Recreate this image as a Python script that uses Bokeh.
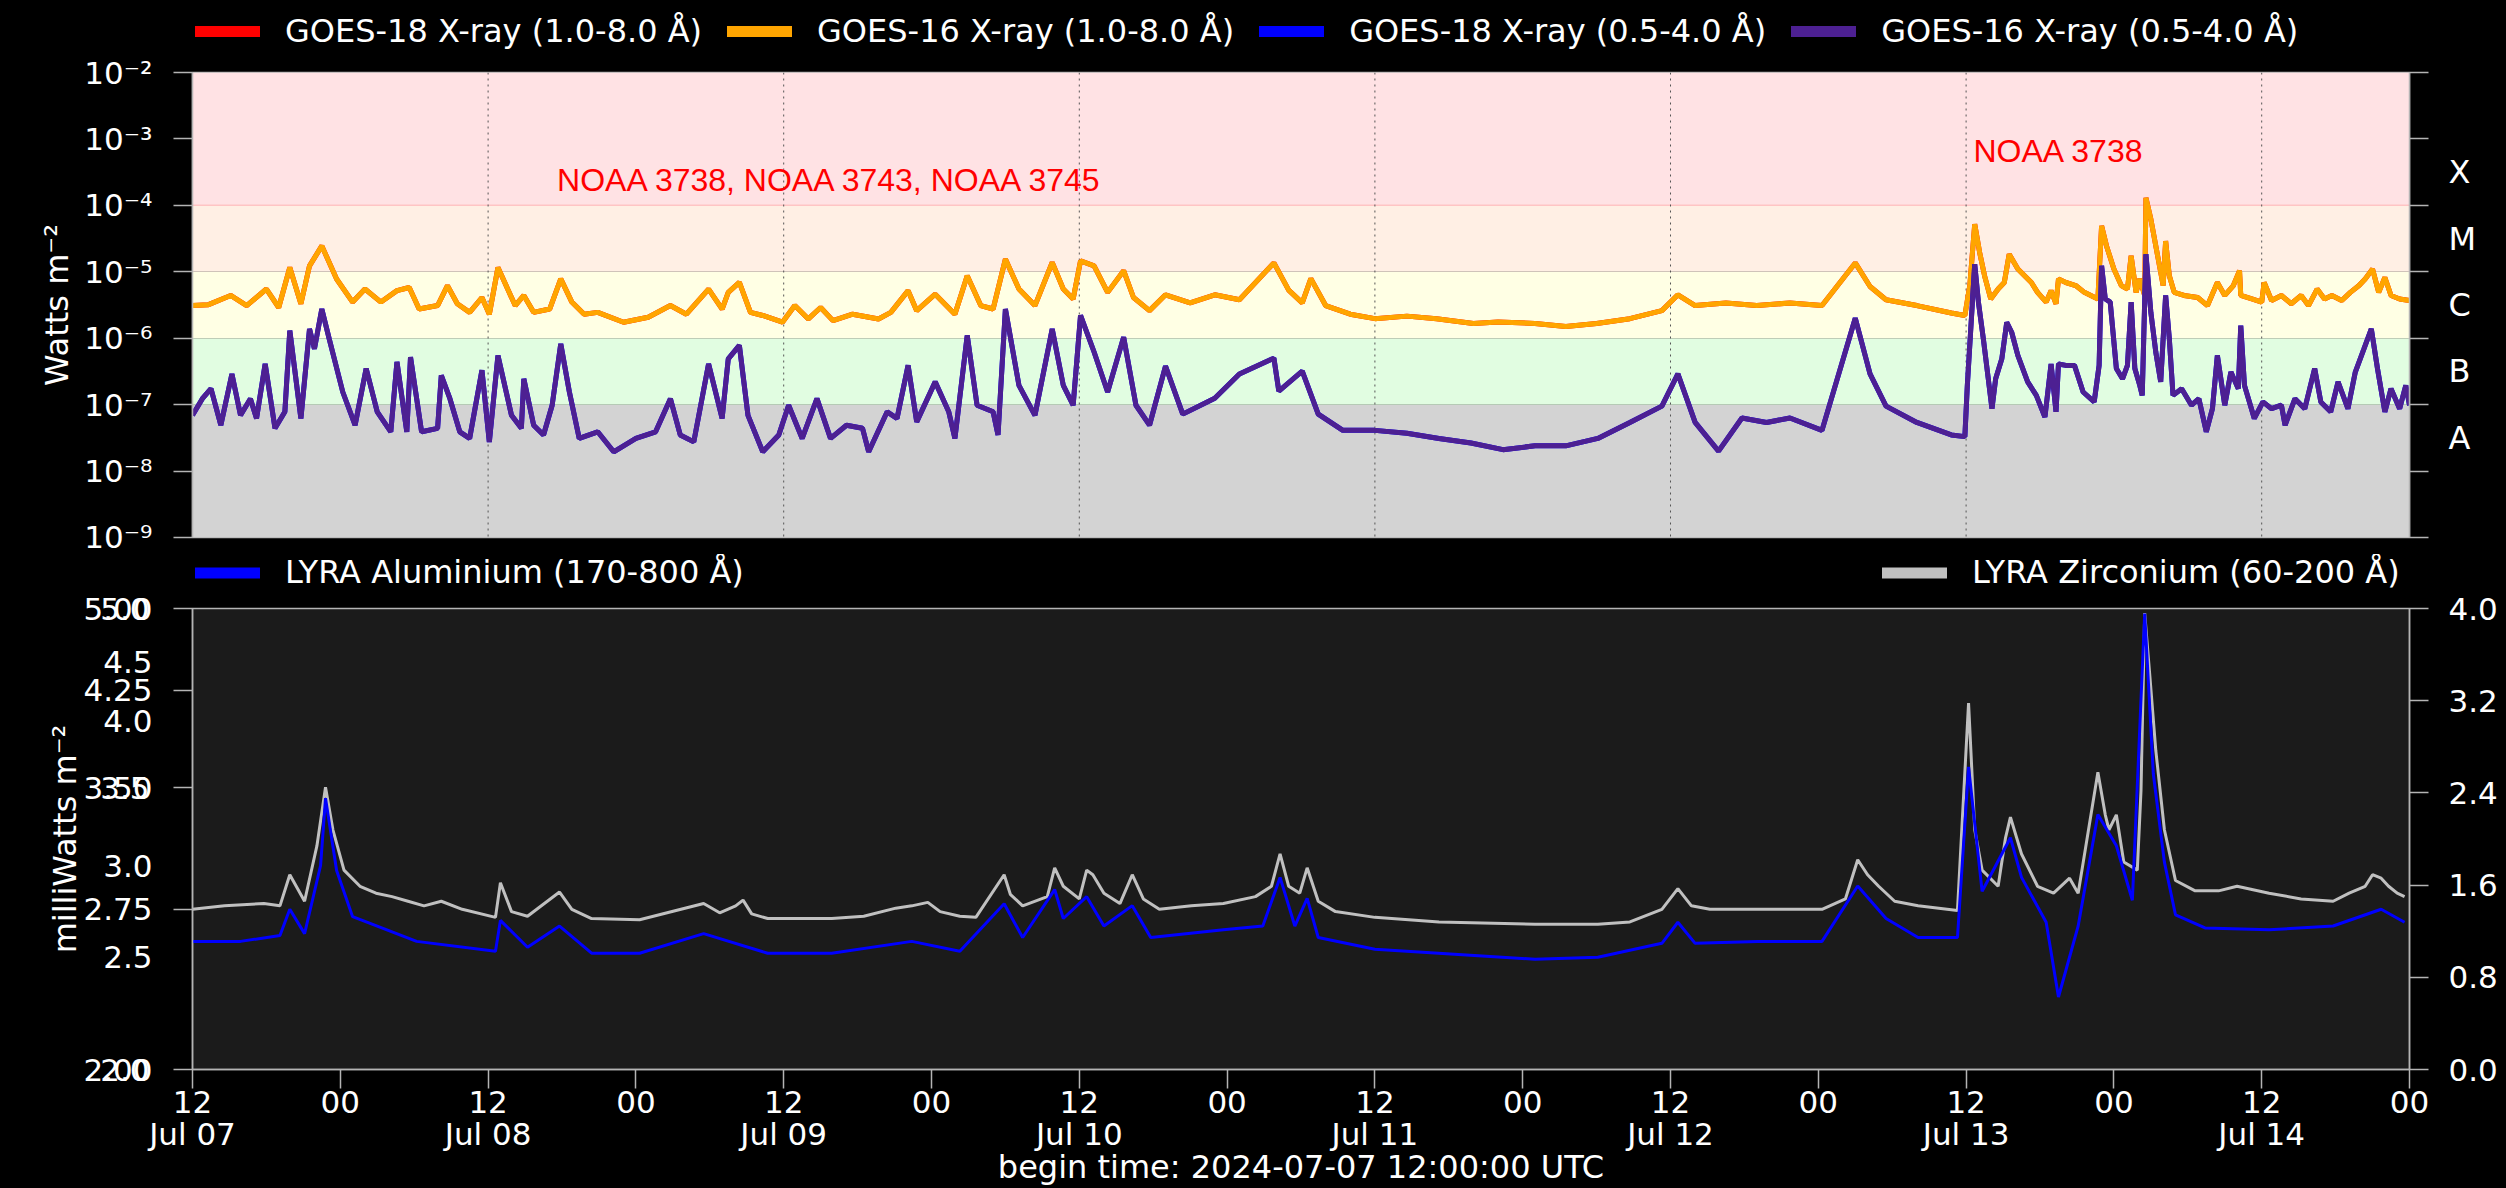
from datetime import datetime, timedelta
from bokeh.plotting import figure
from bokeh.layouts import column
from bokeh.models import (Range1d, LinearAxis, LogAxis, LinearScale, FixedTicker, CustomJSTickFormatter,
                          BoxAnnotation, Span, Label, Legend, LegendItem)
from bokeh.embed import file_html
from bokeh.resources import INLINE

# ---------------- data (hours after 2024-07-07 12:00 UTC) ----------------
goes_long_h = [0.0, 1.3, 3.1, 4.4, 6.0, 7.0, 7.9, 8.8, 9.5, 10.5, 11.7, 13.0, 14.0, 15.3, 16.6, 17.6, 18.4, 19.9, 20.7,
               21.5, 22.5, 23.5, 24.1, 24.8, 26.2, 26.9, 27.7, 29.0, 29.9, 30.8, 31.8, 32.9, 35.0, 37.0, 38.8, 40.1,
               41.9, 43.0, 43.5, 44.4, 45.3, 46.3, 47.9, 48.9, 50.0, 51.0, 52.0, 53.6, 55.7, 56.7, 58.1, 58.8, 60.3,
               61.9, 62.9, 64.0, 65.0, 66.0, 67.1, 68.4, 69.8, 70.7, 71.5, 72.1, 73.2, 74.3, 75.6, 76.4, 77.7,
               79.0, 81.0, 83.0, 85.0, 87.8, 89.0, 90.1, 90.8, 92.0, 94.0, 96.0, 98.6, 101.0, 104.0, 106.0, 109.0,
               111.5, 114.0, 116.7, 119.3, 120.6, 122.0, 124.5, 127.0, 129.7, 132.3, 135.0, 136.2, 137.5, 140.0,
               142.8, 143.9, 144.3, 144.7, 145.1, 145.5, 146.0, 146.6, 147.1, 147.5, 148.2, 149.3, 149.8, 150.5,
               150.9, 151.3, 151.5, 152.1, 152.9, 153.6, 154.7, 155.0, 155.4, 156.0, 156.6, 157.1, 157.4, 157.8,
               158.1, 158.5, 158.6, 159.0, 159.6, 160.0, 160.2, 160.5, 160.9, 161.7, 162.8, 163.6, 164.4, 165.0,
               165.7, 166.2, 166.3, 167.2, 168.0, 168.2, 168.8, 169.6, 170.4, 171.2, 171.8, 172.5, 173.1, 173.7,
               174.5, 175.2, 175.9, 176.4, 177.0, 177.5, 178.0, 178.5, 179.2, 180.0]
goes16_long = [3.1e-6, 3.2e-6, 4.4e-6, 3.1e-6, 5.5e-6, 2.9e-6, 1.16e-5, 3.3e-6, 1.23e-5, 2.45e-5, 7.8e-6, 3.5e-6,
               5.5e-6, 3.5e-6, 5.2e-6, 5.8e-6, 2.75e-6, 3.1e-6, 6.2e-6, 3.3e-6, 2.45e-6, 4.1e-6, 2.3e-6, 1.16e-5,
               3.1e-6, 4.4e-6, 2.45e-6, 2.75e-6, 7.8e-6, 3.5e-6, 2.3e-6, 2.45e-6, 1.74e-6, 2.07e-6, 3.1e-6, 2.3e-6,
               5.5e-6, 2.75e-6, 4.9e-6, 6.9e-6, 2.45e-6, 2.2e-6, 1.74e-6, 3.1e-6, 1.95e-6, 2.9e-6, 1.84e-6, 2.3e-6,
               1.95e-6, 2.45e-6, 5.2e-6, 2.6e-6, 4.6e-6, 2.3e-6, 8.7e-6, 3.1e-6, 2.75e-6, 1.55e-5, 5.5e-6, 3.1e-6,
               1.38e-5, 5.5e-6, 3.9e-6, 1.46e-5, 1.23e-5, 4.9e-6, 1.04e-5, 4.1e-6, 2.6e-6,
               4.5e-6, 3.4e-6, 4.5e-6, 3.8e-6, 1.36e-5, 5.3e-6, 3.4e-6, 7.9e-6, 3.1e-6, 2.3e-6, 1.97e-6, 2.15e-6,
               1.97e-6, 1.67e-6, 1.75e-6, 1.67e-6, 1.5e-6, 1.67e-6, 1.97e-6, 2.6e-6, 4.5e-6, 3.1e-6, 3.4e-6, 3.1e-6,
               3.4e-6, 3.1e-6, 1.36e-5, 6.0e-6, 3.8e-6, 3.1e-6,
               2.4e-6, 2.2e-6, 6.2e-6, 5.2e-5, 1.95e-5, 8.7e-6, 3.9e-6, 5.5e-6, 6.9e-6, 1.84e-5, 1.1e-5, 6.9e-6,
               4.9e-6, 3.5e-6, 5.2e-6, 3.3e-6, 7.8e-6, 6.9e-6, 6.2e-6, 4.9e-6, 3.9e-6, 4.9e-5, 2.45e-5, 1.1e-5,
               6.2e-6, 5.5e-6, 1.74e-5, 4.9e-6, 7.8e-6, 4.4e-6, 1.3e-4, 6.2e-5, 1.55e-5, 6.2e-6, 2.9e-5, 8.7e-6,
               4.9e-6, 4.4e-6, 4.1e-6, 3.1e-6, 6.9e-6, 4.4e-6, 6.2e-6, 1.04e-5, 4.4e-6, 3.9e-6, 3.5e-6, 6.9e-6,
               3.7e-6, 4.4e-6, 3.3e-6, 4.4e-6, 3.1e-6, 5.5e-6, 3.9e-6, 4.4e-6, 3.7e-6, 4.9e-6, 6.2e-6, 7.8e-6,
               1.1e-5, 4.9e-6, 8.2e-6, 4.4e-6, 3.9e-6, 3.7e-6]
goes18_long = goes16_long  # GOES-18 lies under GOES-16 throughout

goes_short_h = [0.0, 0.8, 1.5, 2.3, 3.2, 3.9, 4.7, 5.2, 5.9, 6.7, 7.5, 7.9, 8.8, 9.5, 9.9, 10.5, 11.1, 12.2, 13.2,
                14.1, 15.0, 16.1, 16.6, 17.4, 17.7, 18.6, 19.9, 20.2, 20.9, 21.7, 22.5, 23.5, 24.1, 24.8, 25.9, 26.7,
                26.9, 27.7, 28.5, 29.2, 29.9, 30.6, 31.4, 32.9, 34.2, 36.0, 37.6, 38.8, 39.6, 40.7, 41.9, 43.0, 43.5,
                44.4, 45.1, 46.3, 47.6, 48.4, 49.5, 50.7, 51.8, 53.1, 54.4, 54.9, 56.4, 57.2, 58.1, 58.8, 60.3, 61.4,
                61.9, 62.9, 63.7, 65.0, 65.4, 66.0, 67.1, 68.4, 69.8, 70.7, 71.5, 72.1, 73.2, 74.3, 75.6, 76.6, 77.7,
                79.0, 80.4, 83.0, 85.0, 87.8, 88.2, 90.1, 91.4, 93.4, 96.0, 98.6, 101.2, 103.8, 106.4, 109.0, 111.5,
                114.1, 116.7, 119.3, 120.6, 122.0, 123.9, 125.8, 127.8, 129.7, 132.3, 135.0, 136.2, 137.5, 140.0,
                142.8, 143.9, 144.1, 144.7, 145.0, 145.4, 145.8, 146.1, 146.4, 146.9, 147.3, 147.7, 148.2, 149.0,
                149.7, 150.4, 150.9, 151.3, 151.5, 152.1, 152.8, 153.5, 154.4, 154.8, 155.0, 155.3, 155.7, 156.2,
                156.7, 157.1, 157.4, 157.7, 158.1, 158.3, 158.6, 159.0, 159.4, 159.8, 160.2, 160.5, 160.8, 161.5,
                162.3, 162.9, 163.5, 164.0, 164.4, 165.0, 165.5, 166.1, 166.3, 166.6, 167.4, 168.1, 168.8, 169.6,
                169.9, 170.7, 171.5, 172.3, 172.8, 173.6, 174.2, 175.0, 175.6, 176.3, 176.9, 177.4, 178.0, 178.5,
                179.2, 179.7, 180.0]
goes16_short = [6.9e-8, 1.23e-7, 1.74e-7, 4.9e-8, 2.9e-7, 6.9e-8, 1.23e-7, 6.2e-8, 4.1e-7, 4.4e-8, 7.8e-8, 1.3e-6,
                6.2e-8, 1.38e-6, 6.9e-7, 2.75e-6, 9.8e-7, 1.55e-7, 4.9e-8, 3.5e-7, 7.8e-8, 3.9e-8, 4.4e-7, 3.9e-8,
                5.2e-7, 3.9e-8, 4.4e-8, 2.75e-7, 1.23e-7, 3.9e-8, 3.1e-8, 3.3e-7, 2.75e-8, 5.5e-7, 6.9e-8, 4.4e-8,
                2.45e-7, 4.9e-8, 3.5e-8, 9.8e-8, 8.2e-7, 1.55e-7, 3.1e-8, 3.9e-8, 1.95e-8, 3.1e-8, 3.9e-8, 1.23e-7,
                3.5e-8, 2.75e-8, 4.1e-7, 6.2e-8, 4.9e-7, 7.8e-7, 6.9e-8, 1.95e-8, 3.5e-8, 9.8e-8, 3.1e-8, 1.23e-7,
                3.1e-8, 4.9e-8, 4.4e-8, 1.95e-8, 7.8e-8, 6.2e-8, 3.9e-7, 5.5e-8, 2.2e-7, 7.8e-8, 3.1e-8, 1.1e-6,
                9.8e-8, 7.8e-8, 3.5e-8, 2.75e-6, 1.95e-7, 6.9e-8, 1.38e-6, 1.95e-7, 9.8e-8, 2.2e-6, 6.2e-7, 1.55e-7,
                1.04e-6, 9.8e-8, 4.9e-8,
                3.8e-7, 7.2e-8, 1.25e-7, 2.9e-7, 5.0e-7, 1.6e-7, 3.2e-7, 7.2e-8, 4.1e-8, 4.1e-8, 3.7e-8, 3.1e-8,
                2.65e-8, 2.1e-8, 2.4e-8, 2.4e-8, 3.1e-8, 5.4e-8, 9.5e-8, 2.9e-7, 5.4e-8, 2.0e-8, 6.3e-8, 5.4e-8,
                6.3e-8, 4.1e-8, 2.0e-6, 2.9e-7, 9.5e-8, 5.4e-8,
                3.5e-8, 3.3e-8, 1.95e-7, 1.3e-5, 3.5e-6, 9.8e-7, 2.45e-7, 8.7e-8, 2.45e-7, 4.9e-7, 1.74e-6, 1.23e-6,
                5.5e-7, 2.2e-7, 1.38e-7, 6.5e-8, 4.1e-7, 7.8e-8, 4.1e-7, 3.9e-7, 3.9e-7, 1.55e-7, 1.1e-7, 3.9e-7,
                1.23e-5, 3.9e-6, 3.5e-6, 3.5e-7, 2.45e-7, 3.9e-7, 3.5e-6, 3.5e-7, 1.95e-7, 1.38e-7, 1.84e-5, 2.45e-6,
                6.2e-7, 2.2e-7, 4.4e-6, 9.8e-7, 1.38e-7, 1.74e-7, 9.8e-8, 1.23e-7, 3.9e-8, 8.7e-8, 5.5e-7, 9.8e-8,
                3.1e-7, 1.74e-7, 1.55e-6, 1.95e-7, 6.2e-8, 1.1e-7, 8.7e-8, 9.8e-8, 4.9e-8, 1.23e-7, 8.7e-8, 3.5e-7,
                1.1e-7, 7.8e-8, 2.2e-7, 8.7e-8, 3.1e-7, 6.9e-7, 1.38e-6, 3.5e-7, 7.8e-8, 1.74e-7, 8.7e-8, 1.95e-7,
                9.8e-8]
goes18_short = goes16_short  # GOES-18 lies under GOES-16 throughout

lyra_zr_h = [0, 2.6, 5.8, 7.1, 7.9, 9.1, 10.1, 10.8, 11.4, 12.3, 13.6, 14.9, 16.2, 17.5, 18.8, 20.2, 21.9, 24.6, 25.0,
             25.9, 27.2, 29.8, 30.8, 32.4, 36.3, 41.5, 42.8, 44.1, 44.7, 45.4, 46.7, 51.9, 54.5, 57.1, 58.4, 59.7,
             60.7, 62.3, 63.6, 65.9, 66.4, 67.4, 69.4, 70.0, 70.7, 72.0, 72.6, 73.1, 74.0, 75.3, 76.3, 77.2, 78.5,
             81.1, 83.7, 86.3, 87.6, 88.3, 89.0, 89.9, 90.5, 91.4, 92.8, 96.0, 101.2, 109.0, 114.1, 116.7, 119.3,
             120.6, 121.7, 123.2, 127.1, 132.3, 134.2, 135.2, 136.0, 136.9, 138.2, 140.1, 143.3, 144.2, 144.7,
             145.3, 146.6, 147.2, 147.6, 148.5, 149.8, 151.1, 152.4, 153.1, 154.7, 155.3, 155.6, 156.2, 156.8,
             157.9, 158.2, 158.5, 158.9, 159.4, 160.1, 161.0, 162.6, 164.5, 166.0, 168.6, 171.2, 173.8, 175.1,
             176.4, 177.0, 177.7, 178.3, 179.0, 179.6]
lyra_zr = [1.39, 1.42, 1.44, 1.42, 1.69, 1.46, 1.94, 2.45, 2.08, 1.73, 1.59, 1.53, 1.50, 1.46, 1.42, 1.46, 1.39,
           1.32, 1.62, 1.37, 1.33, 1.54, 1.39, 1.31, 1.30, 1.44, 1.36, 1.42, 1.47, 1.35, 1.31, 1.31, 1.33, 1.40,
           1.42, 1.45, 1.37, 1.33, 1.32, 1.69, 1.52, 1.42, 1.50, 1.75, 1.59, 1.48, 1.73, 1.69, 1.53, 1.44, 1.69,
           1.48, 1.39, 1.42, 1.44, 1.50, 1.59, 1.87, 1.59, 1.53, 1.75, 1.46, 1.37, 1.32, 1.28, 1.26, 1.26, 1.28,
           1.39, 1.57, 1.42, 1.39, 1.39, 1.39, 1.48, 1.82, 1.69, 1.59, 1.46, 1.42, 1.38, 3.18, 2.08, 1.73, 1.59,
           2.01, 2.19, 1.87, 1.59, 1.53, 1.66, 1.53, 2.58, 2.21, 2.08, 2.21, 1.80, 1.73, 2.42, 3.96, 3.44, 2.77,
           2.08, 1.64, 1.55, 1.55, 1.59, 1.53, 1.48, 1.46, 1.53, 1.59, 1.69, 1.66, 1.59, 1.53, 1.50]

lyra_al_h = [0, 3.9, 7.1, 7.9, 9.1, 10.4, 10.8, 11.7, 13, 18.2, 24.6, 25, 27.2, 29.8, 32.4, 36.3, 41.5, 46.7, 51.9,
             58.4, 62.3, 65.9, 67.4, 70, 70.7, 72.6, 74, 76.3, 77.8, 83.7, 86.9, 88.3, 89.5, 90.5, 91.4, 96, 109,
             114.1, 119.3, 120.6, 122, 127.1, 132.3, 135.2, 137.5, 140.1, 143.3, 144.2, 145.3, 147.6, 148.5, 150.5,
             151.5, 153.1, 154.7, 156.2, 157.5, 158.5, 159.2, 160.1, 161, 163.4, 168.6, 173.8, 177.7, 179.6]
lyra_al = [2.58, 2.58, 2.61, 2.75, 2.62, 3.0, 3.43, 2.97, 2.71, 2.58, 2.53, 2.69, 2.55, 2.66, 2.52, 2.52, 2.62, 2.52,
           2.52, 2.58, 2.53, 2.78, 2.60, 2.86, 2.70, 2.82, 2.66, 2.77, 2.60, 2.64, 2.66, 2.93, 2.66, 2.81, 2.60, 2.54,
           2.49, 2.50, 2.57, 2.68, 2.57, 2.58, 2.58, 2.88, 2.70, 2.60, 2.60, 3.65, 2.85, 3.17, 2.93, 2.68, 2.31, 2.66,
           3.32, 3.12, 2.80, 4.95, 3.6, 3.02, 2.72, 2.65, 2.64, 2.66, 2.75, 2.68]

goes_names = ["GOES-18 X-ray (1.0-8.0 Å)", "GOES-16 X-ray (1.0-8.0 Å)",
              "GOES-18 X-ray (0.5-4.0 Å)", "GOES-16 X-ray (0.5-4.0 Å)"]
lyra_names = ["LYRA Aluminium (170-800 Å)", "LYRA Zirconium (60-200 Å)"]

flare_classes = ["A", "B", "C", "M", "X"]
class_lower = [1e-8, 1e-7, 1e-6, 1e-5, 1e-4]
band_edges = [1e-9, 1e-7, 1e-6, 1e-5, 1e-4, 1e-2]

decade_ticks = [1e-9, 1e-8, 1e-7, 1e-6, 1e-5, 1e-4, 1e-3, 1e-2]
lyra_major = [2.0, 2.75, 3.5, 4.25, 5.0]
lyra_minor_labels = [2.5, 3.0, 4.0, 4.5]
lyra_overlap = [2.0, 3.5, 5.0]
zr_ticks = [0.0, 0.8, 1.6, 2.4, 3.2, 4.0]

regions = ["NOAA 3738, NOAA 3743, NOAA 3745", "NOAA 3738"]
region_h = [29.6, 144.6]
region_y = [2.4e-4, 6.5e-4]

# ---------------- styling ----------------
START = datetime(2024, 7, 7, 12)
END = datetime(2024, 7, 15, 0)
EPOCH = datetime(1970, 1, 1)


def ms(dt):
    return (dt - EPOCH).total_seconds() * 1000.0


def hours_to_dt(hs):
    return [START + timedelta(hours=h) for h in hs]


FONT = "DejaVu Sans"
SPINE = "#b4b4b4"
W = 2506
ML, MR = 192, 97

xr = Range1d(ms(START), ms(END))
tick_ms = [ms(START + timedelta(hours=12 * i)) for i in range(16)]
day_ms = [ms(START + timedelta(hours=24 * i)) for i in range(8)]

band_colors = ["#d3d3d3", "#e1fde1", "#ffffe4", "#ffefe4", "#ffe2e4"]
goes_colors = ["#ff0000", "#ffa500", "#0000ff", "#4d2092"]


def style_axis(ax, size="31px"):
    ax.axis_line_color = SPINE
    ax.axis_line_width = 1.5
    ax.major_tick_line_color = SPINE
    ax.minor_tick_line_color = SPINE
    ax.major_tick_line_width = 1.5
    ax.minor_tick_line_width = 1.5
    ax.major_label_text_color = "white"
    ax.major_label_text_font = FONT
    ax.major_label_text_font_size = size
    ax.axis_label_text_color = "white"
    ax.axis_label_text_font = FONT
    ax.axis_label_text_font_size = "32px"
    ax.axis_label_text_font_style = "normal"


def legend_strip(height):
    f = figure(width=W, height=height, x_range=Range1d(0, 1), y_range=Range1d(0, 1),
               x_axis_location=None, y_axis_location=None, output_backend="svg", toolbar_location=None,
               title=None, background_fill_color="black", border_fill_color="black",
               min_border=0, min_border_left=0, min_border_right=0, min_border_top=0, min_border_bottom=0)
    f.outline_line_color = None
    f.xgrid.visible = False
    f.ygrid.visible = False
    return f


leg_style = dict(orientation="horizontal", background_fill_alpha=0.0, border_line_color=None,
                 label_text_color="white", label_text_font=FONT, label_text_font_size="32px",
                 glyph_width=65, label_standoff=25, padding=0, margin=0, spacing=25)

# ---------------- legend strip for GOES (frame is aligned with the plots below) ----------------
l1 = legend_strip(54)
items = []
for name, col in zip(goes_names, goes_colors):
    r = l1.line([2, 3], [0.5, 0.5], line_color=col, line_width=11, line_cap="round")
    items.append(LegendItem(label=name, renderers=[r]))
l1.add_layout(Legend(items=items, location=(3, 4), glyph_height=36, label_height=36, **leg_style))

# ---------------- top: GOES ----------------
p1 = figure(width=W, height=500, x_axis_type="datetime", y_axis_type="log", x_range=xr,
            y_range=Range1d(1e-9, 1e-2), output_backend="svg", toolbar_location=None, title=None,
            background_fill_color="black", border_fill_color="black",
            min_border_left=ML, min_border_right=MR, min_border_top=18, min_border_bottom=17)
p1.outline_line_color = SPINE
p1.outline_line_width = 1.5
p1.xgrid.visible = False
p1.ygrid.visible = False
p1.xaxis.visible = False

for lo, hi, col in zip(band_edges[:-1], band_edges[1:], band_colors):
    p1.add_layout(BoxAnnotation(bottom=lo, top=hi, fill_color=col, fill_alpha=1.0,
                                line_color=None, level="underlay"))
p1.add_layout(Span(location=1e-4, dimension="width", line_color="#ffc4c4", line_width=1.5, level="underlay"))
for t in day_ms:
    p1.add_layout(Span(location=t, dimension="height", line_color="#555555", line_width=1,
                       line_dash="dotted", level="underlay"))

sup_js = """
const sup = {'-':'\u207b','0':'\u2070','1':'\u00b9','2':'\u00b2','3':'\u00b3','4':'\u2074',
             '5':'\u2075','6':'\u2076','7':'\u2077','8':'\u2078','9':'\u2079'};
const e = Math.round(Math.log10(tick));
return '10' + String(e).split('').map(c => sup[c]).join('');
"""
ly = p1.yaxis[0]
ly.ticker = FixedTicker(ticks=decade_ticks, minor_ticks=[])
ly.formatter = CustomJSTickFormatter(code=sup_js)
ly.axis_label = "Watts m\u207b\u00b2"
style_axis(ly)
ly.major_tick_out = 19
ly.major_tick_in = 0
ly.minor_tick_out = 0
ly.minor_tick_in = 0
ly.major_label_standoff = 21
ly.axis_label_standoff = 5

mid_ticks = [c * 10 ** 0.5 for c in class_lower]
ry = LogAxis(ticker=FixedTicker(ticks=mid_ticks, minor_ticks=decade_ticks),
             formatter=CustomJSTickFormatter(args=dict(mids=mid_ticks, names=flare_classes), code="""
const i = mids.findIndex(m => Math.abs(Math.log10(m) - Math.log10(tick)) < 0.01);
return i >= 0 ? names[i] : '';
"""))
style_axis(ry, "32px")
ry.major_tick_out = 0
ry.major_tick_in = 0
ry.minor_tick_out = 19
ry.minor_tick_in = 0
ry.major_label_standoff = 20
p1.add_layout(ry, "right")

long_x = hours_to_dt(goes_long_h)
short_x = hours_to_dt(goes_short_h)
p1.line(long_x, goes18_long, line_color=goes_colors[0], line_width=5)
p1.line(long_x, goes16_long, line_color=goes_colors[1], line_width=5)
p1.line(short_x, goes18_short, line_color=goes_colors[2], line_width=5)
p1.line(short_x, goes16_short, line_color=goes_colors[3], line_width=5)

for txt, h, yv in zip(regions, region_h, region_y):
    p1.add_layout(Label(x=ms(START + timedelta(hours=h)), y=yv, text=txt, text_color="red",
                        text_font="Liberation Sans", text_font_size="32px",
                        text_baseline="middle", text_align="left"))

# ---------------- legend strip for LYRA ----------------
l2 = legend_strip(37)
r_al = l2.line([2, 3], [0.5, 0.5], line_color="#0000ff", line_width=11, line_cap="round")
r_zr = l2.line([2, 3], [0.5, 0.5], line_color="#c0c0c0", line_width=11, line_cap="round")
l2.add_layout(Legend(items=[LegendItem(label=lyra_names[0], renderers=[r_al])],
                     location=(3, 0), glyph_height=37, label_height=37, **leg_style))
l2.add_layout(Legend(items=[LegendItem(label=lyra_names[1], renderers=[r_zr])],
                     location=(1690, 0), glyph_height=37, label_height=37, **leg_style))

# ---------------- bottom: LYRA ----------------
p2 = figure(width=W, height=597, x_axis_type="datetime", y_axis_type="log", x_range=xr,
            y_range=Range1d(2.0, 5.0), output_backend="svg", toolbar_location=None, title=None,
            background_fill_color="#1b1b1b", border_fill_color="black",
            min_border_left=ML, min_border_right=MR, min_border_top=17, min_border_bottom=8)
p2.extra_y_ranges = {"zr": Range1d(0.0, 4.0)}
p2.extra_y_scales = {"zr": LinearScale()}
p2.outline_line_color = SPINE
p2.outline_line_width = 1.5
p2.xgrid.visible = False
p2.ygrid.visible = False

la = p2.yaxis[0]
la.ticker = FixedTicker(ticks=sorted(lyra_major + lyra_minor_labels), minor_ticks=lyra_major)
la.formatter = CustomJSTickFormatter(args=dict(major=lyra_major), code="""
return major.some(m => Math.abs(m - tick) < 1e-6) ? tick.toFixed(2) : tick.toFixed(1);
""")
style_axis(la)
la.major_tick_out = 0
la.major_tick_in = 0
la.minor_tick_out = 19
la.minor_tick_in = 0
la.major_label_standoff = 21

# second set of labels at 2.0 / 3.5 / 5.0 drawn over the first, as in the original
lo_ax = LogAxis(ticker=FixedTicker(ticks=lyra_overlap, minor_ticks=[]),
                formatter=CustomJSTickFormatter(code="return tick.toFixed(1);"))
style_axis(lo_ax)
lo_ax.axis_line_color = None
lo_ax.major_tick_out = 0
lo_ax.major_tick_in = 0
lo_ax.minor_tick_out = 0
lo_ax.minor_tick_in = 0
lo_ax.major_label_standoff = -69
lo_ax.axis_label = "milliWatts m\u207b\u00b2"
lo_ax.axis_label_standoff = 13
p2.add_layout(lo_ax, "left")

ra = LinearAxis(y_range_name="zr", ticker=FixedTicker(ticks=zr_ticks, minor_ticks=[]),
                formatter=CustomJSTickFormatter(code="return tick.toFixed(1);"))
style_axis(ra)
ra.major_tick_out = 19
ra.major_tick_in = 0
ra.minor_tick_out = 0
ra.minor_tick_in = 0
ra.major_label_standoff = 20
p2.add_layout(ra, "right")

bx = p2.xaxis[0]
bx.ticker = FixedTicker(ticks=tick_ms, minor_ticks=[])
bx.formatter = CustomJSTickFormatter(code="""
const d = new Date(tick);
const h = d.getUTCHours();
const hs = (h < 10 ? '0' : '') + h;
if (h == 12) {
  const mon = ['Jan','Feb','Mar','Apr','May','Jun','Jul','Aug','Sep','Oct','Nov','Dec'][d.getUTCMonth()];
  const day = d.getUTCDate();
  return hs + '\\n' + mon + ' ' + (day < 10 ? '0' : '') + day;
}
return hs;
""")
bx.axis_label = "begin time: 2024-07-07 12:00:00 UTC"
style_axis(bx)
bx.major_label_text_line_height = 0.89
bx.major_tick_out = 19
bx.major_tick_in = 0
bx.minor_tick_out = 0
bx.major_label_standoff = -5
bx.axis_label_standoff = -7

p2.line(hours_to_dt(lyra_zr_h), lyra_zr, line_color="#c0c0c0", line_width=3, y_range_name="zr")
p2.line(hours_to_dt(lyra_al_h), lyra_al, line_color="#0000ff", line_width=3)

layout = column(l1, p1, l2, p2, spacing=0, styles={"background-color": "black"})
open("out.html", "w").write(file_html(layout, INLINE))
